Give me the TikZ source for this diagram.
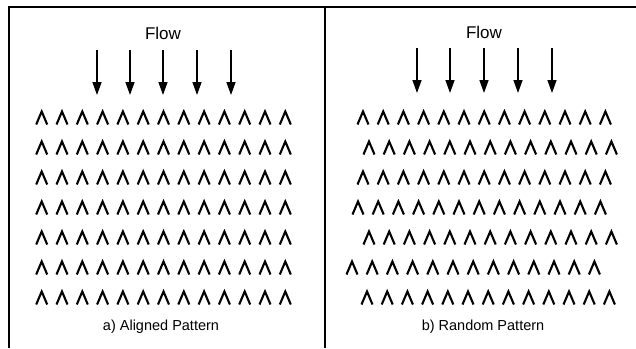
\documentclass[tikz,border=0pt]{standalone}
\usepackage{fontspec}
\setmainfont{Liberation Sans}
\usetikzlibrary{arrows.meta}
\begin{document}
\begin{tikzpicture}[x=1pt, y=-1pt,
        frame/.style={line width=1.6pt},
        flowarrow/.style={line width=1.4pt, -{Triangle[width=9pt, length=13pt]}},
        chevron/.style={line width=2.1pt, line join=miter},
        flowtext/.style={font=\fontsize{17}{20}\selectfont},
        caption/.style={font=\fontsize{14.5}{17}\selectfont}]

        \useasboundingbox (0,0) rectangle (636,348);

        \draw [frame] (636,7) -- (9,7) -- (9,348);
        \draw [frame] (325,7) -- (325,348);

        \node (flowa) [flowtext] at (163,33) {Flow};
        \node (flowb) [flowtext] at (484,32) {Flow};

        \foreach \x [count=\i] in {97,130,163,197,231} {
            \coordinate (taila\i) at (\x,50);
            \coordinate (heada\i) at (\x,95);
            \draw [flowarrow] (taila\i) -- (heada\i);
        }
        \foreach \x [count=\i] in {417,450,484,518,552} {
            \coordinate (tailb\i) at (\x,48);
            \coordinate (headb\i) at (\x,93);
            \draw [flowarrow] (tailb\i) -- (headb\i);
        }

        % aligned rows
        \foreach \r in {0,...,6}
            \foreach \c in {0,...,12}
                \draw [chevron] ({41.7+20.3*\c-5.5},{118+30*\r+6.5}) -- ++(5.5,-13) -- ++(5.5,13);

        % staggered rows
        \foreach \s [count=\r from 0] in {363,369,363,358,369,352,367}
            \foreach \c in {0,...,12}
                \draw [chevron] ({\s+20.2*\c-5.5},{118+30*\r+6.5}) -- ++(5.5,-13) -- ++(5.5,13);

        \node (captiona) [caption] at (161,327) {a) Aligned Pattern};
        \node (captionb) [caption] at (483,327) {b) Random Pattern};
    \end{tikzpicture}
\end{document}
